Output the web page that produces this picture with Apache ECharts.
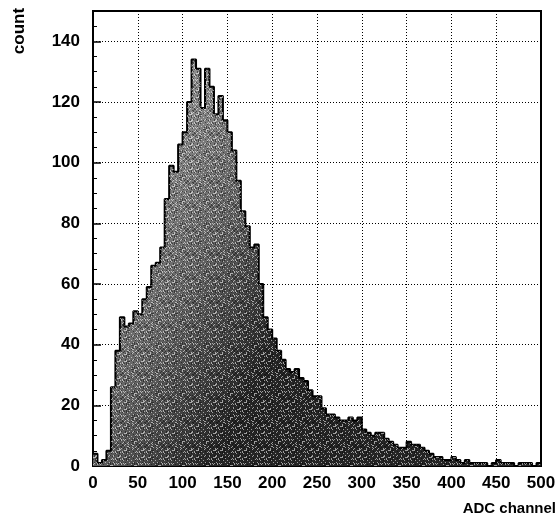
<!DOCTYPE html>
<html>
<head>
<meta charset="utf-8">
<script src="https://cdn.jsdelivr.net/npm/echarts@6/dist/echarts.min.js"></script>
<style>
  html, body { margin: 0; padding: 0; background: #fff; }
  #chart { width: 560px; height: 524px; }
</style>
</head>
<body>
<div id="chart"></div>
<script>
// ADC spectrum, 100 bins of 5 channels each, counts
var binWidth = 5;
var counts = [
  4, 1, 2, 5, 26, 38, 49, 46, 47, 51,
  50, 55, 59, 66, 67, 72, 88, 99, 97, 106,
  110, 120, 134, 131, 118, 131, 125, 116, 122, 114,
  110, 104, 94, 84, 79, 72, 73, 60, 49, 45,
  42, 38, 35, 32, 31, 32, 29, 28, 25, 23,
  23, 19, 17, 17, 16, 15, 15, 16, 15, 16,
  12, 11, 10, 11, 11, 9, 8, 7, 6, 6,
  8, 7, 7, 6, 5, 4, 3, 3, 2, 2,
  3, 2, 1, 2, 1, 1, 1, 1, 0, 1,
  2, 1, 1, 1, 0, 1, 1, 1, 0, 1
];
var xTicks = [0, 50, 100, 150, 200, 250, 300, 350, 400, 450, 500];
var yTicks = [0, 20, 40, 60, 80, 100, 120, 140];

var xName = 'ADC channel';
var yName = 'count';

// step points at the left edge of each bin, closed at the right end
var steps = counts.map(function (c, k) { return [k * binWidth, c]; });
steps.push([counts.length * binWidth, counts[counts.length - 1]]);

var font = '"Liberation Sans", Arial, Helvetica, sans-serif';

// speckle texture laid over the grey fill, like the halftone of the print
function speckle() {
  var cv = document.createElement('canvas');
  cv.width = 24; cv.height = 24;
  var ctx = cv.getContext('2d');
  for (var i = 0; i < 24; i++) {
    for (var j = 0; j < 24; j++) {
      var h = (i * 37 + j * 91 + i * j * 13) % 17;
      if (h < 3) { ctx.fillStyle = 'rgba(255,255,255,0.55)'; ctx.fillRect(i, j, 1, 1); }
      else if (h > 13) { ctx.fillStyle = 'rgba(0,0,0,0.45)'; ctx.fillRect(i, j, 1, 1); }
    }
  }
  return cv;
}

var chart = echarts.init(document.getElementById('chart'), null, { renderer: 'canvas' });

chart.setOption({
  animation: false,
  backgroundColor: '#fff',
  grid: {
    left: 93, right: 19, top: 11, bottom: 58,
    show: true, borderColor: '#000', borderWidth: 2
  },
  xAxis: {
    type: 'value',
    min: xTicks[0],
    max: xTicks[xTicks.length - 1],
    interval: 50,
    axisLine: { show: true, lineStyle: { color: '#000', width: 2 } },
    axisTick: { show: true, inside: true, length: 6, lineStyle: { color: '#000', width: 1.5 } },
    axisLabel: {
      color: '#000', fontFamily: font, fontWeight: 'bold', fontSize: 17, margin: 9
    },
    splitLine: { show: true, lineStyle: { color: '#000', type: [1, 2], width: 1 } }
  },
  yAxis: {
    type: 'value',
    min: 0,
    max: 150,
    interval: 20,
    axisLine: { show: true, lineStyle: { color: '#000', width: 2 } },
    axisTick: { show: true, inside: true, length: 8, lineStyle: { color: '#000', width: 1.5 } },
    minorTick: { show: true, splitNumber: 4, length: 4, lineStyle: { color: '#000', width: 1 } },
    axisLabel: {
      color: '#000', fontFamily: font, fontWeight: 'bold', fontSize: 17, margin: 13,
      showMaxLabel: false,
      formatter: function (v) { return yTicks.indexOf(v) >= 0 ? String(v) : ''; }
    },
    splitLine: { show: true, lineStyle: { color: '#000', type: [1, 2], width: 1 } }
  },
  graphic: [
    {
      type: 'text', x: 19, y: 31, rotation: Math.PI / 2,
      style: {
        text: yName, fill: '#000', font: 'bold 17px ' + font,
        textAlign: 'center', textVerticalAlign: 'middle'
      }
    },
    {
      type: 'text', x: 556, y: 509,
      style: {
        text: xName, fill: '#000', font: 'bold 15px ' + font,
        textAlign: 'right', textVerticalAlign: 'middle'
      }
    }
  ],
  series: [{
    type: 'line',
    step: 'end',
    data: steps,
    symbol: 'none',
    lineStyle: { color: '#000', width: 2 },
    areaStyle: {
      opacity: 1,
      color: new echarts.graphic.LinearGradient(120, 200, 300, 300, [
        { offset: 0, color: '#8e8e8e' },
        { offset: 0.5, color: '#626262' },
        { offset: 1, color: '#262626' }
      ], true)
    },
    z: 3
  }, {
    type: 'line',
    step: 'end',
    data: steps,
    symbol: 'none',
    silent: true,
    lineStyle: { width: 0, opacity: 0 },
    areaStyle: { opacity: 1, color: { image: speckle(), repeat: 'repeat' } },
    z: 4
  }]
});
</script>
</body>
</html>
